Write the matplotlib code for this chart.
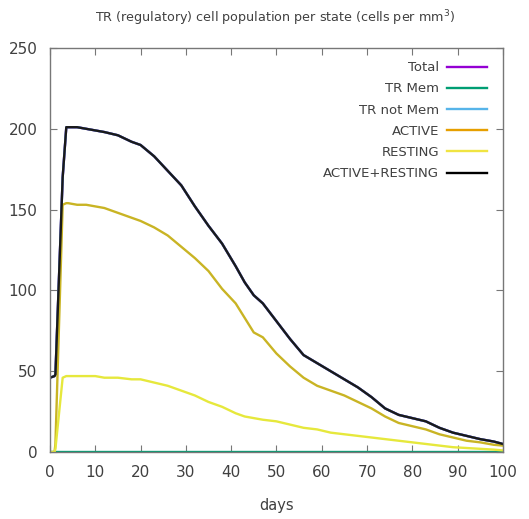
import matplotlib
matplotlib.use("Agg")
import matplotlib.pyplot as plt
from matplotlib.lines import Line2D

days = [0, 1, 1.2, 2.8, 3.6, 4, 6, 8, 10, 12, 15, 18, 20, 23, 26, 29, 32, 35, 38, 41, 43, 45,
        47, 50, 53, 56, 59, 62, 65, 68, 71, 74, 77, 80, 83, 86, 89, 92, 95, 98, 100]
active_resting = [46, 47, 48, 170, 201, 201, 201, 200, 199, 198, 196, 192, 190, 183, 174, 165, 152, 140, 129, 115, 105, 97,
                  92, 81, 70, 60, 55, 50, 45, 40, 34, 27, 23, 21, 19, 15, 12, 10, 8, 6.5, 5]
active = [0, 0, 5, 153, 154, 154, 153, 153, 152, 151, 148, 145, 143, 139, 134, 127, 120, 112, 101, 92, 83, 74,
          71, 61, 53, 46, 41, 38, 35, 31, 27, 22, 18, 16, 14, 11, 9, 7, 6, 4.5, 4]
resting = [0, 0, 2, 46, 47, 47, 47, 47, 47, 46, 46, 45, 45, 43, 41, 38, 35, 31, 28, 24, 22, 21,
           20, 19, 17, 15, 14, 12, 11, 10, 9, 8, 7, 6, 5, 4, 3, 2.5, 2, 1.5, 1]
total = active_resting
tr_mem = [0] * len(days)
tr_not_mem = active_resting

labels = ["Total", "TR Mem", "TR not Mem", "ACTIVE", "RESTING", "ACTIVE+RESTING"]
colors = ["#9400d3", "#009e73", "#56b4e9", "#e69f00", "#f0e442", "#000000"]
curve_colors = ["#9400d3", "#009e73", "#56b4e9", "#c9b424", "#e6e83c", "#1a1a1a"]
series = [total, tr_mem, tr_not_mem, active, resting, active_resting]

xticks = [0, 10, 20, 30, 40, 50, 60, 70, 80, 90, 100]
yticks = [0, 50, 100, 150, 200, 250]

fig = plt.figure(figsize=(5.29, 5.19), dpi=100)
ax = fig.add_axes([0.0945, 0.129, 0.856, 0.7785])
for s, c in zip(series, curve_colors):
    ax.plot(days, s, color=c, lw=1.7, solid_joinstyle="round")

ax.set_xlim(0, 100)
ax.set_ylim(0, 250)
ax.set_xticks(xticks)
ax.set_yticks(yticks)
txtc = "#404040"
ax.tick_params(direction="in", length=5, width=0.8, color="#777777",
               top=True, right=True, labelsize=11, labelcolor=txtc, pad=9)
for sp in ax.spines.values():
    sp.set_color("#777777")
    sp.set_linewidth(1.0)
ax.set_xlabel("days", fontsize=10.5, color=txtc, labelpad=13)
fig.text(0.52, 0.965, "TR (regulatory) cell population per state (cells per mm$^3$)",
         ha="center", va="center", fontsize=9.2, color=txtc)

handles = [Line2D([], [], color=c, lw=1.7) for c in colors]
leg = ax.legend(handles, labels, loc="upper right", markerfirst=False, frameon=False,
                fontsize=9.5, labelcolor=txtc, handlelength=3.0, handletextpad=0.6,
                labelspacing=0.62, borderaxespad=0.3, bbox_to_anchor=(0.985, 0.99))

fig.savefig("out.png", dpi=100, facecolor="white")
